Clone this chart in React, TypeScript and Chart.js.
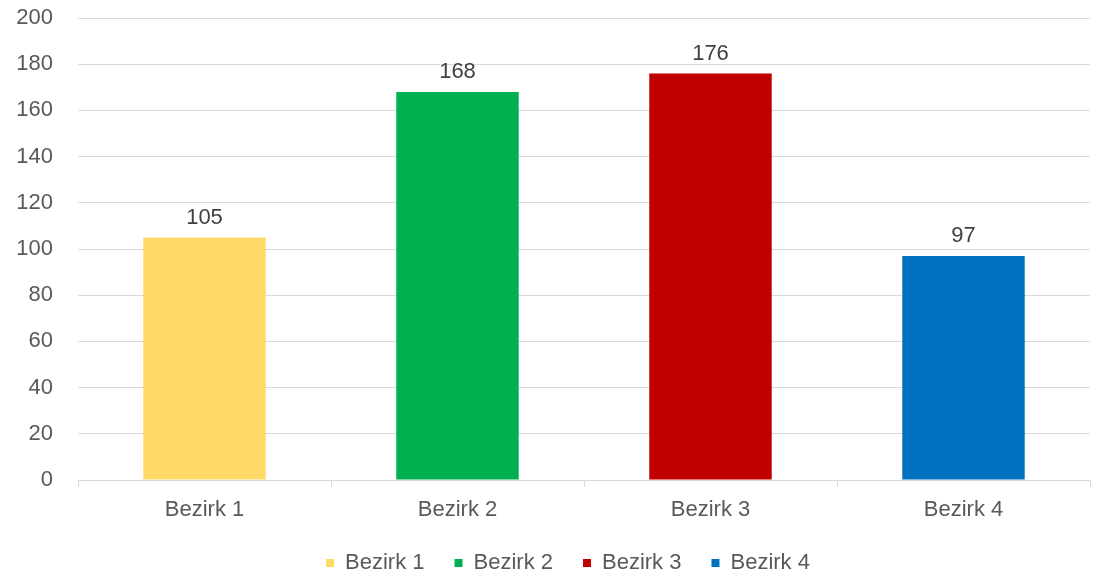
import React, { useEffect, useRef } from "react";
import { Chart, registerables } from "chart.js";

Chart.register(...registerables);

const categories = ["Bezirk 1", "Bezirk 2", "Bezirk 3", "Bezirk 4"];
const values = [105, 168, 176, 97];
const barColors = ["#FFD966", "#00B050", "#C00000", "#0070C0"];
const yTicks = { min: 0, max: 200, step: 20 };

const FONT = "'Liberation Sans', Arial, sans-serif";

const dataLabelPlugin = {
  id: "dataLabels",
  afterDatasetsDraw(chart: any) {
    const ctx = chart.ctx;
    const meta = chart.getDatasetMeta(0);
    ctx.save();
    ctx.font = `22px ${FONT}`;
    ctx.fillStyle = "#404040";
    ctx.textAlign = "center";
    ctx.textBaseline = "middle";
    meta.data.forEach((bar: any, i: number) => {
      ctx.fillText(String(values[i]), bar.x, bar.y - 20);
    });
    ctx.restore();
  },
};

const legendHeightPlugin = {
  id: "legendHeight",
  afterInit(chart: any) {
    const lg = chart.legend;
    if (!lg) return;
    const orig = lg.fit.bind(lg);
    lg.fit = function () {
      orig();
      this.height = 50;
      if (this.lineWidths && this.lineWidths.length) {
        this.lineWidths[0] -= 46;
      }
    };
  },
};

export default function App() {
  const ref = useRef<HTMLCanvasElement | null>(null);
  useEffect(() => {
    document.body.style.margin = "0";
    const chart = new Chart(ref.current as HTMLCanvasElement, {
      type: "bar",
      data: {
        labels: categories,
        datasets: [
          {
            data: values,
            backgroundColor: barColors,
            borderWidth: 0,
            barPercentage: 0.484,
            categoryPercentage: 1,
          },
        ],
      },
      options: {
        animation: false,
        responsive: false,
        maintainAspectRatio: false,
        layout: { padding: { top: 18, right: 3, left: 0, bottom: 0 } },
        plugins: {
          tooltip: { enabled: false },
          legend: {
            position: "bottom",
            labels: {
              boxWidth: 8,
              boxHeight: 8,
              padding: 30,
              color: "#595959",
              font: { family: FONT, size: 22 },
              generateLabels: () =>
                categories.map((c, i) => ({
                  text: c,
                  fillStyle: barColors[i],
                  strokeStyle: barColors[i],
                  lineWidth: 0,
                  hidden: false,
                  index: i,
                  fontColor: "#595959",
                })),
            },
          },
        },
        scales: {
          x: {
            offset: true,
            grid: {
              display: true,
              drawOnChartArea: false,
              drawTicks: true,
              tickLength: 7,
              color: "#d9d9d9",
              offset: true,
            },
            border: { display: true, color: "#d9d9d9", width: 1 },
            ticks: {
              color: "#595959",
              font: { family: FONT, size: 22 },
              padding: 10,
            },
            afterFit(scale: any) {
              scale.height = 42;
              scale.paddingLeft = 0;
              scale.paddingRight = 0;
            },
          },
          y: {
            min: yTicks.min,
            max: yTicks.max,
            ticks: {
              stepSize: yTicks.step,
              color: "#595959",
              font: { family: FONT, size: 22 },
              padding: 25,
            },
            grid: { color: "#d9d9d9", lineWidth: 1, drawTicks: false },
            border: { display: false },
            afterFit(scale: any) {
              scale.width = 78;
              scale.paddingTop = 0;
              scale.paddingBottom = 0;
            },
          },
        },
      },
      plugins: [dataLabelPlugin, legendHeightPlugin],
    });
    return () => chart.destroy();
  }, []);
  return (
    <div style={{ width: 1093, height: 572 }}>
      <canvas ref={ref} width={1093} height={572} style={{ display: "block" }} />
    </div>
  );
}
